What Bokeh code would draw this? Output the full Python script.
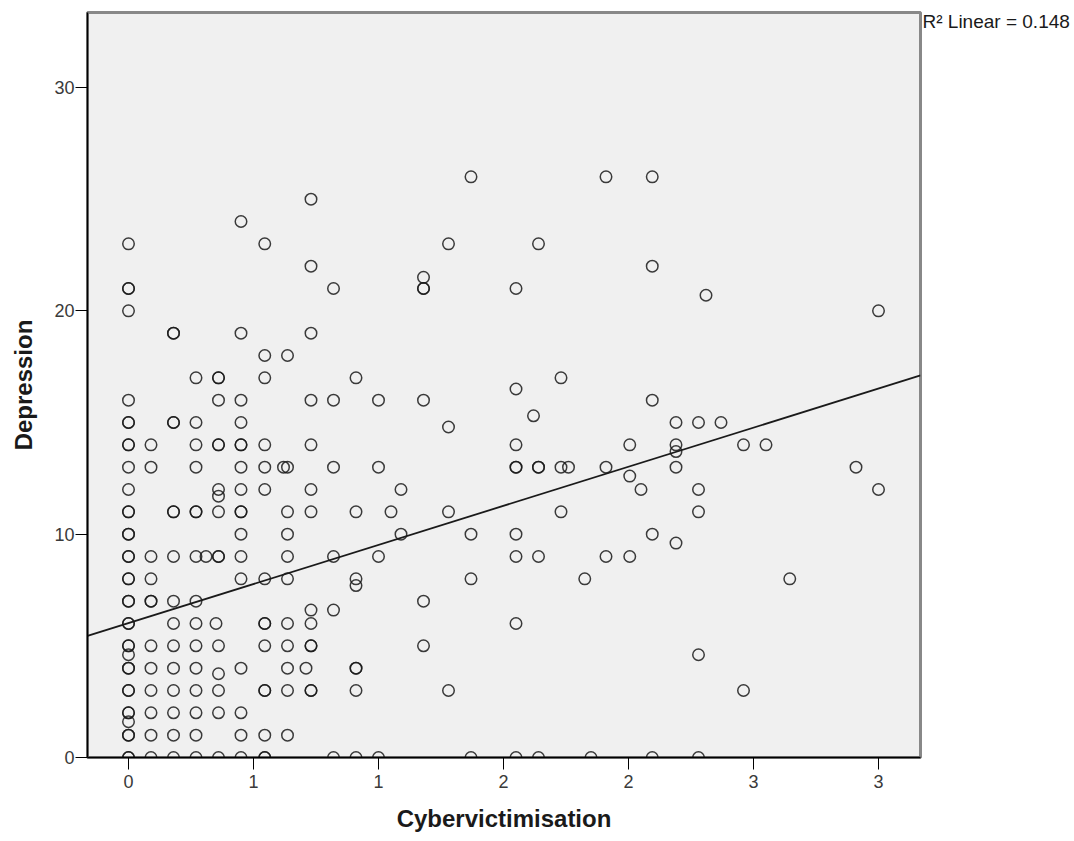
from bokeh.plotting import figure
from bokeh.models import Range1d, FixedTicker, LinearAxis
from bokeh.embed import file_html
from bokeh.resources import INLINE

# ---- data ----
cyber = (
    [0.0] * 37
    + [0.09] * 12
    + [0.18] * 15
    + [0.27] * 15
    + [0.31]
    + [0.36] * 15
    + [0.35]
    + [0.45] * 17
    + [0.545] * 15
    + [0.62]
    + [0.636] * 11
    + [0.73] * 13
    + [0.71]
    + [0.82] * 6
    + [0.91] * 8
    + [1.0] * 4
    + [1.05]
    + [1.09] * 2
    + [1.18] * 6
    + [1.28] * 4
    + [1.37] * 4
    + [1.55] * 9
    + [1.62]
    + [1.64] * 5
    + [1.73] * 3
    + [1.76]
    + [1.825]
    + [1.85]
    + [1.91] * 3
    + [2.005] * 3
    + [2.05]
    + [2.095] * 5
    + [2.19] * 5
    + [2.28] * 5
    + [2.31]
    + [2.37]
    + [2.46] * 2
    + [2.55]
    + [2.645]
    + [2.91]
    + [3.0] * 2
)
depression = (
    [23, 21, 21, 20, 16, 15, 15, 14, 14, 13, 12, 11, 11, 10, 10, 9, 9, 8, 8, 7, 7, 6, 6, 5, 5, 4.6, 4, 4, 3, 3, 2, 2, 1.6, 1, 1, 0, 0]
    + [14, 13, 9, 8, 7, 7, 5, 4, 3, 2, 1, 0]
    + [19, 19, 15, 15, 11, 11, 9, 7, 6, 5, 4, 3, 2, 1, 0]
    + [17, 15, 14, 13, 11, 11, 9, 7, 6, 5, 4, 3, 2, 1, 0]
    + [9]
    + [17, 17, 16, 14, 14, 12, 11.7, 11, 9, 9, 5, 3.75, 3, 2, 0]
    + [6]
    + [24, 19, 16, 15, 14, 14, 13, 12, 11, 11, 10, 9, 8, 4, 2, 1, 0]
    + [23, 18, 17, 14, 13, 12, 8, 6, 6, 5, 3, 3, 1, 0, 0]
    + [13]
    + [18, 13, 11, 10, 9, 8, 6, 5, 4, 3, 1]
    + [25, 22, 19, 16, 14, 12, 11, 6.6, 6, 5, 5, 3, 3]
    + [4]
    + [21, 16, 13, 9, 6.6, 0]
    + [17, 11, 8, 7.7, 4, 4, 3, 0]
    + [16, 13, 9, 0]
    + [11]
    + [12, 10]
    + [21.5, 21, 21, 16, 7, 5]
    + [23, 14.8, 11, 3]
    + [26, 10, 8, 0]
    + [21, 16.5, 14, 13, 13, 10, 9, 6, 0]
    + [15.3]
    + [23, 13, 13, 9, 0]
    + [17, 13, 11]
    + [13]
    + [8]
    + [0]
    + [26, 13, 9]
    + [14, 12.6, 9]
    + [12]
    + [26, 22, 16, 10, 0]
    + [15, 14, 13.7, 13, 9.6]
    + [15, 12, 11, 4.6, 0]
    + [20.7]
    + [15]
    + [14, 3]
    + [14]
    + [8]
    + [13]
    + [20, 12]
)

fit_intercept = 6.02
fit_slope = 3.5
r2_text = "R\u00b2 Linear = 0.148"
r2_y = 32.95

x_tick_values = [0, 0.5, 1.0, 1.5, 2.0, 2.5, 3.0]
x_tick_labels = ["0", "1", "1", "2", "2", "3", "3"]
y_tick_values = [0, 10, 20, 30]

x_lo, x_hi = -0.164, 3.168
y_lo, y_hi = 0, 33.36

p = figure(width=1074, height=841, output_backend="svg", toolbar_location=None,
           x_range=Range1d(x_lo, x_hi), y_range=Range1d(y_lo, y_hi),
           min_border_left=87, min_border_right=154, min_border_top=12,
           min_border_bottom=84)
p.background_fill_color = "#f0f0f0"
p.border_fill_color = "white"
p.outline_line_color = "#888888"
p.outline_line_width = 3
p.xgrid.visible = False
p.ygrid.visible = False

p.scatter(cyber, depression, size=11.5, marker="circle", fill_color=None,
          line_color="#1a1a1a", line_width=1.5, line_alpha=0.85)

lx = [x_lo, x_hi]
ly = [fit_intercept + fit_slope * v for v in lx]
p.line(lx, ly, line_color="#1a1a1a", line_width=1.8)

for ax in (p.xaxis[0], p.yaxis[0]):
    ax.axis_line_color = "black"
    ax.axis_line_width = 1.5
    ax.major_tick_line_color = "black"
    ax.major_tick_line_width = 1
    ax.minor_tick_line_color = None
    ax.major_tick_in = 0
    ax.major_tick_out = 12
    ax.major_label_text_font = "Liberation Sans"
    ax.major_label_text_font_size = "18px"
    ax.major_label_text_color = "#3a3a3a"
    ax.axis_label_text_font = "Liberation Sans"
    ax.axis_label_text_font_style = "bold"
    ax.axis_label_text_color = "#1a1a1a"
    ax.axis_label_text_font_size = "24px"

p.xaxis[0].ticker = FixedTicker(ticks=x_tick_values)
p.xaxis[0].major_label_overrides = {v: l for v, l in zip(x_tick_values, x_tick_labels)}
p.xaxis[0].major_label_standoff = 5
p.xaxis[0].axis_label = "Cybervictimisation"
p.xaxis[0].axis_label_standoff = 14

p.yaxis[0].ticker = FixedTicker(ticks=y_tick_values)
p.yaxis[0].major_label_standoff = 1
p.yaxis[0].axis_label = "Depression"
p.yaxis[0].axis_label_standoff = 14

# fit-statistic note at the top right, outside the frame
note_axis = LinearAxis(ticker=FixedTicker(ticks=[r2_y]),
                       major_label_overrides={r2_y: r2_text})
note_axis.axis_line_color = None
note_axis.major_tick_line_color = None
note_axis.minor_tick_line_color = None
note_axis.major_tick_in = 0
note_axis.major_tick_out = 0
note_axis.major_label_standoff = 2
note_axis.major_label_text_font = "Liberation Sans"
note_axis.major_label_text_font_size = "19px"
note_axis.major_label_text_color = "#1a1a1a"
p.add_layout(note_axis, "right")

open("out.html", "w").write(file_html(p, INLINE))
